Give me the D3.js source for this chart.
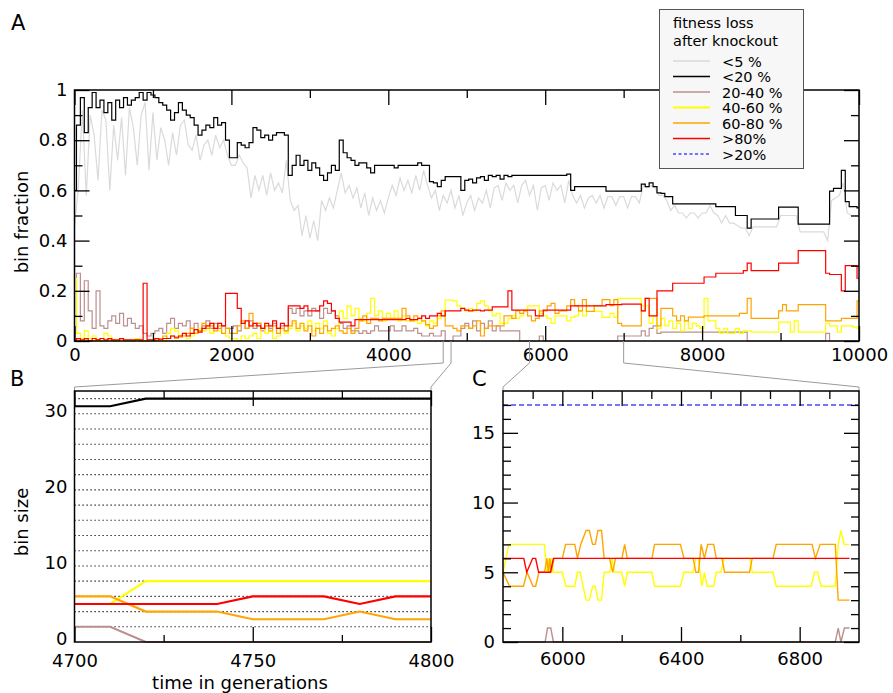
<!DOCTYPE html>
<html>
<head>
<meta charset="utf-8">
<script src="https://cdn.jsdelivr.net/npm/d3@7"></script>
<style>
  html, body { margin: 0; padding: 0; background: #fff; }
  svg { display: block; font-family: "DejaVu Sans", sans-serif; }
</style>
</head>
<body>
<svg id="fig" width="893" height="693"></svg>
<script>
// ---------- Panel A: bin fractions over the whole run (sampled every 50 generations) ----------
const genStep = 50;
const below5 = [
0.45,0.62,0.92,0.58,0.90,0.82,0.64,0.92,0.88,0.60,0.86,0.72,0.89,0.66,0.93,0.85,0.70,0.90,0.95,0.68,
0.91,0.72,0.85,0.80,0.70,0.83,0.74,0.86,0.88,0.78,0.76,0.82,0.72,0.78,0.80,0.74,0.82,0.77,0.80,0.74,
0.70,0.70,0.74,0.71,0.69,0.57,0.66,0.60,0.66,0.58,0.67,0.60,0.63,0.59,0.72,0.56,0.52,0.54,0.42,0.50,
0.41,0.48,0.40,0.56,0.52,0.57,0.53,0.60,0.67,0.59,0.62,0.57,0.61,0.53,0.59,0.50,0.57,0.52,0.56,0.51,
0.57,0.62,0.58,0.65,0.60,0.64,0.59,0.66,0.60,0.68,0.62,0.57,0.60,0.52,0.58,0.55,0.60,0.53,0.58,0.50,
0.55,0.58,0.52,0.57,0.55,0.60,0.53,0.61,0.62,0.56,0.63,0.60,0.62,0.55,0.62,0.64,0.58,0.62,0.52,0.61,
0.62,0.56,0.63,0.60,0.62,0.55,0.64,0.58,0.55,0.58,0.53,0.57,0.58,0.55,0.58,0.53,0.575,0.575,0.54,0.575,
0.575,0.53,0.575,0.575,0.55,0.62,0.61,0.62,0.61,0.58,0.58,0.56,0.52,0.54,0.51,0.51,0.49,0.51,0.51,0.49,
0.51,0.51,0.54,0.51,0.50,0.47,0.50,0.47,0.47,0.46,0.45,0.45,0.42,0.455,0.455,0.455,0.455,0.455,0.455,0.455,
0.50,0.50,0.50,0.50,0.50,0.435,0.435,0.435,0.435,0.435,0.435,0.435,0.40,0.56,0.57,0.58,0.63,0.51,0.50,0.50,
0.50];
const below20 = [
0.60,0.86,0.97,0.83,0.93,0.99,0.93,0.96,0.91,0.95,0.88,0.96,0.93,0.97,0.94,0.96,0.97,0.99,0.96,0.99,
0.98,0.97,0.95,0.94,0.92,0.88,0.91,0.95,0.92,0.90,0.89,0.86,0.82,0.84,0.86,0.85,0.89,0.86,0.87,0.80,
0.73,0.73,0.79,0.78,0.77,0.79,0.85,0.84,0.81,0.82,0.80,0.82,0.83,0.83,0.82,0.66,0.70,0.74,0.70,0.72,
0.68,0.71,0.69,0.66,0.64,0.67,0.70,0.68,0.80,0.75,0.73,0.72,0.70,0.71,0.71,0.69,0.67,0.70,0.70,0.70,
0.70,0.70,0.69,0.70,0.70,0.70,0.70,0.70,0.71,0.70,0.70,0.635,0.63,0.615,0.64,0.655,0.655,0.655,0.655,0.60,
0.64,0.645,0.63,0.65,0.655,0.64,0.66,0.655,0.66,0.645,0.66,0.655,0.66,0.66,0.66,0.66,0.66,0.66,0.66,0.66,
0.66,0.66,0.66,0.66,0.66,0.66,0.665,0.60,0.615,0.615,0.615,0.615,0.615,0.615,0.615,0.615,0.597,0.597,0.597,0.597,
0.597,0.597,0.597,0.597,0.597,0.625,0.615,0.63,0.615,0.59,0.588,0.575,0.575,0.546,0.546,0.546,0.546,0.546,0.546,0.546,
0.546,0.546,0.546,0.546,0.535,0.535,0.535,0.535,0.535,0.50,0.50,0.50,0.45,0.486,0.486,0.486,0.486,0.486,0.486,0.486,
0.533,0.533,0.533,0.533,0.533,0.466,0.466,0.466,0.466,0.466,0.466,0.466,0.466,0.597,0.608,0.608,0.68,0.555,0.535,0.535,
0.53];
const loss20to40 = [
0.10,0.27,0.08,0.24,0.12,0.05,0.20,0.06,0.05,0.08,0.10,0.07,0.11,0.06,0.09,0.07,0.05,0.06,0.03,0.02,
0.03,0.04,0.05,0.03,0.07,0.09,0.05,0.07,0.06,0.08,0.05,0.07,0.04,0.06,0.08,0.05,0.07,0.05,0.06,0.05,
0.05,0.06,0.04,0.07,0.05,0.08,0.05,0.07,0.04,0.06,0.05,0.07,0.05,0.06,0.04,0.13,0.11,0.13,0.10,0.12,
0.10,0.13,0.12,0.09,0.13,0.11,0.12,0.10,0.07,0.05,0.06,0.04,0.04,0.03,0.04,0.03,0.04,0.06,0.04,0.04,
0.04,0.06,0.04,0.04,0.06,0.04,0.04,0.05,0.03,0.02,0.02,0.03,0.02,0.02,0.04,0.0,0.0,0.02,0.02,0.05,
0.07,0.05,0.08,0.04,0.07,0.05,0.08,0.04,0.06,0.04,0.04,0.04,0.04,0.04,0.0,0.0,0.0,0.0,0.0,0.02,
0,0,0,0,0,0,0,0,0,0,0,0,0,0,0,0,0,0,0,0.02,
0.02,0.02,0.02,0.02,0.02,0.04,0.02,0.05,0.06,0.03,0.035,0.035,0.035,0.035,0.035,0.035,0.035,0.035,0.035,0.035,
0.035,0.035,0.035,0.035,0.035,0.035,0.035,0.035,0.035,0.035,0.035,0.035,0,0,0,0,0,0,0,0,
0,0,0,0,0,0,0,0,0,0,0,0,0.03,0,0,0,0,0,0,0,
0];
const loss40to60 = [
0.25,0.03,0.01,0.04,0.01,0.02,0.0,0.01,0.03,0.02,0.005,0.0,0.01,0.0,0.005,0.0,0.01,0.0,0.0,0.005,
0.005,0.0,0.01,0.0,0.03,0.05,0.04,0.02,0.03,0.01,0.02,0.03,0.05,0.04,0.06,0.03,0.05,0.04,0.03,0.02,
0.01,0.01,0.0,0.02,0.01,0.02,0.03,0.01,0.05,0.03,0.04,0.01,0.02,0.05,0.03,0.05,0.07,0.04,0.06,0.05,
0.08,0.04,0.07,0.05,0.08,0.03,0.02,0.05,0.12,0.09,0.14,0.10,0.13,0.09,0.08,0.11,0.17,0.10,0.12,0.08,
0.11,0.09,0.12,0.08,0.10,0.08,0.08,0.08,0.07,0.08,0.06,0.08,0.07,0.09,0.10,0.163,0.163,0.16,0.14,0.13,
0.12,0.13,0.12,0.15,0.16,0.14,0.12,0.10,0.11,0.07,0.07,0.09,0.10,0.09,0.10,0.12,0.14,0.14,0.14,0.11,
0.10,0.09,0.07,0.10,0.10,0.10,0.08,0.094,0.10,0.118,0.10,0.141,0.141,0.118,0.118,0.094,0.094,0.11,0.094,0.17,
0.17,0.17,0.17,0.17,0.17,0.14,0.14,0.07,0.10,0.05,0.09,0.06,0.08,0.05,0.07,0.04,0.08,0.05,0.07,0.06,
0.05,0.17,0.08,0.08,0.05,0.03,0.05,0.03,0.03,0.05,0.03,0.04,0.04,0.035,0.035,0.035,0.035,0.035,0.035,0.035,
0.075,0.075,0.075,0.035,0.08,0.035,0.035,0.035,0.035,0.035,0.035,0.035,0.07,0.06,0.06,0.035,0.06,0.06,0.06,0.055,
0.05];
const loss60to80 = [
0.0,0.005,0.0,0.005,0.0,0.0,0.005,0.0,0.0,0.005,0.0,0.0,0.005,0.0,0.0,0.0,0.005,0.0,0.0,0.0,
0.0,0.005,0.01,0.02,0.01,0.02,0.01,0.015,0.02,0.03,0.05,0.03,0.04,0.07,0.05,0.06,0.04,0.06,0.03,0.05,
0.03,0.03,0.06,0.08,0.05,0.11,0.06,0.07,0.05,0.06,0.04,0.06,0.03,0.05,0.04,0.06,0.08,0.05,0.07,0.04,
0.06,0.02,0.05,0.03,0.06,0.04,0.05,0.06,0.04,0.03,0.05,0.03,0.05,0.08,0.10,0.07,0.09,0.09,0.08,0.09,
0.09,0.09,0.09,0.09,0.13,0.10,0.08,0.10,0.09,0.08,0.065,0.05,0.06,0.10,0.12,0.06,0.06,0.05,0.04,0.06,
0.06,0.05,0.06,0.08,0.02,0.05,0.06,0.06,0.06,0.06,0.10,0.10,0.09,0.12,0.11,0.12,0.10,0.08,0.09,0.12,
0.12,0.14,0.15,0.11,0.12,0.12,0.14,0.165,0.141,0.12,0.165,0.118,0.118,0.141,0.141,0.165,0.165,0.141,0.165,0.07,
0.06,0.06,0.06,0.06,0.06,0.12,0.17,0.17,0.17,0.06,0.13,0.13,0.13,0.10,0.08,0.10,0.08,0.095,0.095,0.095,
0.095,0.10,0.10,0.10,0.10,0.10,0.10,0.10,0.10,0.10,0.11,0.11,0.17,0.09,0.09,0.09,0.09,0.09,0.09,0.09,
0.12,0.145,0.12,0.12,0.12,0.145,0.145,0.145,0.145,0.145,0.145,0.145,0.08,0.08,0.08,0.08,0.09,0.09,0.09,0.09,
0.16];
const above80 = [
0.0,0.01,0.005,0.01,0.0,0.01,0.005,0.01,0.005,0.01,0.005,0.005,0.01,0.005,0.005,0.005,0.005,0.005,0.23,0.005,
0.005,0.01,0.005,0.01,0.01,0.02,0.015,0.02,0.03,0.02,0.03,0.045,0.035,0.05,0.06,0.07,0.05,0.07,0.06,0.19,
0.19,0.19,0.13,0.07,0.08,0.06,0.07,0.06,0.05,0.07,0.06,0.08,0.05,0.07,0.06,0.14,0.14,0.14,0.13,0.14,
0.12,0.12,0.12,0.14,0.16,0.15,0.12,0.09,0.075,0.075,0.075,0.06,0.085,0.085,0.085,0.085,0.085,0.085,0.085,0.085,
0.085,0.085,0.085,0.085,0.085,0.09,0.085,0.085,0.09,0.10,0.09,0.10,0.10,0.11,0.10,0.12,0.12,0.12,0.12,0.13,
0.123,0.12,0.123,0.123,0.12,0.123,0.123,0.136,0.136,0.136,0.136,0.20,0.123,0.123,0.123,0.123,0.123,0.123,0.10,0.10,
0.123,0.123,0.123,0.123,0.123,0.123,0.123,0.14,0.14,0.14,0.14,0.14,0.14,0.14,0.14,0.14,0.145,0.145,0.145,0.145,
0.147,0.147,0.147,0.147,0.147,0.12,0.17,0.10,0.10,0.20,0.20,0.20,0.20,0.23,0.23,0.23,0.23,0.23,0.23,0.23,
0.23,0.255,0.255,0.255,0.27,0.27,0.27,0.27,0.27,0.27,0.27,0.28,0.31,0.28,0.28,0.28,0.28,0.28,0.28,0.28,
0.31,0.31,0.31,0.31,0.31,0.36,0.36,0.36,0.36,0.36,0.36,0.36,0.27,0.265,0.265,0.265,0.20,0.30,0.30,0.30,
0.25];
const gensA = below20.map((_, i) => i * genStep);

// ---------- Panel B: bin sizes, generations 4700-4800 ----------
const gensB = [4700,4710,4720,4730,4740,4750,4760,4770,4780,4790,4800];
const sizeB20   = [31,31,32,32,32,32,32,32,32,32,32];
const sizeB2040 = [2,2,0,0,0,0,0,0,0,0,0];
const sizeB4060 = [5,5,8,8,8,8,8,8,8,8,8];
const sizeB6080 = [6,6,4,4,4,3,3,3,4,3,3];
const sizeB80   = [5,5,5,5,5,6,6,6,5,6,6];
const gridB = [2,4,6,8,10,12,14,16,18,20,22,24,26,28,30,32];

// ---------- Panel C: bin sizes, generations 5800-7000 ([generation, size]) ----------
const sizeCabove20 = [[5800,17],[7000,17]];
const sizeC2040 = [[5800,0],[5942,0],[5950,1],[5961,1],[5970,0],[6920,0],[6930,1],[6939,0],[6951,1],[6968,1]];
const sizeC4060 = [[5800,5],[5820,7],[5940,7],[5948,5],[5953,6],[5958,5],[5963,6],[5970,5],[6000,5],[6012,4],
  [6042,4],[6051,5],[6060,5],[6080,3],[6091,3],[6102,4],[6111,4],[6120,3],[6132,3],[6141,5],[6160,5],[6168,6],
  [6175,5],[6200,5],[6210,4],[6219,5],[6302,5],[6311,4],[6398,4],[6410,5],[6441,5],[6450,6],[6459,6],[6470,4],
  [6479,5],[6488,4],[6510,4],[6519,5],[6535,5],[6545,6],[6632,6],[6640,5],[6710,5],[6721,4],[6839,4],[6850,5],
  [6861,5],[6872,4],[6920,4],[6930,7],[6939,8],[6950,7],[6968,7]];
const sizeC6080 = [[5800,5],[5822,4],[5869,4],[5881,5],[5901,4],[5910,4],[5921,5],[5940,5],[5948,6],[5953,5],
  [5958,6],[5963,5],[5972,6],[6000,6],[6011,7],[6042,7],[6051,6],[6062,7],[6080,8],[6091,8],[6102,7],[6111,7],
  [6120,8],[6132,8],[6141,6],[6159,6],[6170,5],[6179,6],[6201,6],[6210,7],[6219,6],[6302,6],[6311,7],[6398,7],
  [6410,6],[6441,6],[6450,5],[6459,5],[6468,7],[6479,6],[6490,7],[6510,7],[6519,6],[6538,6],[6547,5],[6631,5],
  [6640,6],[6710,6],[6721,7],[6842,7],[6853,6],[6869,7],[6920,7],[6930,3],[6968,3]];
const sizeC80 = [[5800,6],[5870,6],[5880,5],[5900,6],[5910,6],[5920,5],[5960,5],[5970,6],[6968,6]];

// ---------- Tick values and legend ----------
const xTicksA = [0,2000,4000,6000,8000,10000];
const xMinorA = [1000,3000,5000,7000,9000];
const yTicksA = [0,0.2,0.4,0.6,0.8,1];
const yMinorA = [0.1,0.3,0.5,0.7,0.9];
const xTicksB = [4700,4750,4800];
const xMinorB = [4725,4775];
const yTicksB = [0,10,20,30];
const xTicksC = [6000,6400,6800];
const xMidC   = [6200,6600];
const xTopC   = [6000,6200,6400,6600,6800];
const xTopMinorC = [5900,6100,6300,6500,6700,6900];
const yTicksC = [0,5,10,15];
const yMinorC = [1,2,3,4,6,7,8,9,11,12,13,14,16,17];

const legendTitle = ["fitness loss", "after knockout"];
const legendItems = [
  {label: "<5 %",    color: "#dadada", dash: null},
  {label: "<20 %",   color: "#000000", dash: null},
  {label: "20-40 %", color: "#bc8f8f", dash: null},
  {label: "40-60 %", color: "#ffff00", dash: null},
  {label: "60-80 %", color: "#ffa500", dash: null},
  {label: ">80%",    color: "#ff0000", dash: null},
  {label: ">20%",    color: "#4747ff", dash: "3,2.5"}
];
const col = {};
legendItems.forEach(d => col[d.label] = d.color);

const svg = d3.select("#fig");
const FS = 18;

function styleAxis(g, withText) {
  g.select(".domain").remove();
  g.selectAll(".tick line").attr("stroke", "#000").attr("stroke-width", 1.3);
  g.selectAll("text").attr("font-size", FS).attr("font-family", "DejaVu Sans, sans-serif").attr("fill", "#000");
  if (!withText) g.selectAll("text").remove();
}
function frame(x0, x1, y0, y1) {
  svg.append("rect").attr("x", x0).attr("y", y1).attr("width", x1 - x0).attr("height", y0 - y1)
    .attr("fill", "none").attr("stroke", "#000").attr("stroke-width", 1.5);
}

// ================= Panel A =================
const xA = d3.scaleLinear().domain([0, 10000]).range([74.5, 859]);
const yA = d3.scaleLinear().domain([0, 1]).range([341, 90]);
const gA = svg.append("g");
const lineAStep = d3.line().x((d, i) => xA(gensA[i])).y(d => yA(d)).curve(d3.curveStep);
const lineALin  = d3.line().x((d, i) => xA(gensA[i])).y(d => yA(d));
const seriesA = [
  [below5, "<5 %", lineALin], [below20, "<20 %", lineAStep], [loss20to40, "20-40 %", lineAStep],
  [loss40to60, "40-60 %", lineAStep], [loss60to80, "60-80 %", lineAStep], [above80, ">80%", lineAStep]
];
seriesA.forEach(([vals, key, gen]) => {
  gA.append("path").attr("d", gen(vals)).attr("fill", "none")
    .attr("stroke", col[key]).attr("stroke-width", 1.2).attr("stroke-linejoin", "miter");
});

svg.append("g").attr("transform", "translate(0,341)")
  .call(d3.axisBottom(xA).tickValues(xTicksA).tickSize(-15).tickPadding(7).tickFormat(d3.format("d")))
  .call(g => styleAxis(g, true));
svg.append("g").attr("transform", "translate(0,341)")
  .call(d3.axisBottom(xA).tickValues(xMinorA).tickSize(-8).tickFormat(""))
  .call(g => styleAxis(g, false));
svg.append("g").attr("transform", "translate(0,90)")
  .call(d3.axisTop(xA).tickValues(xTicksA).tickSize(-15).tickFormat(""))
  .call(g => styleAxis(g, false));
svg.append("g").attr("transform", "translate(0,90)")
  .call(d3.axisTop(xA).tickValues(xMinorA).tickSize(-8).tickFormat(""))
  .call(g => styleAxis(g, false));
svg.append("g").attr("transform", "translate(74.5,0)")
  .call(d3.axisLeft(yA).tickValues(yTicksA).tickSize(-15).tickPadding(7).tickFormat(d => String(+d.toFixed(1))))
  .call(g => styleAxis(g, true));
svg.append("g").attr("transform", "translate(74.5,0)")
  .call(d3.axisLeft(yA).tickValues(yMinorA).tickSize(-8).tickFormat(""))
  .call(g => styleAxis(g, false));
svg.append("g").attr("transform", "translate(859,0)")
  .call(d3.axisRight(yA).tickValues(yTicksA).tickSize(-15).tickFormat(""))
  .call(g => styleAxis(g, false));
svg.append("g").attr("transform", "translate(859,0)")
  .call(d3.axisRight(yA).tickValues(yMinorA).tickSize(-8).tickFormat(""))
  .call(g => styleAxis(g, false));
frame(74.5, 859, 341, 90);

svg.append("text").attr("transform", "translate(28,222) rotate(-90)")
  .attr("text-anchor", "middle").attr("font-size", FS).text("bin fraction");
svg.append("text").attr("x", 11).attr("y", 30).attr("font-size", 21).text("A");

// ================= Connectors (zoom windows) =================
const xB = d3.scaleLinear().domain([4700, 4800]).range([74.5, 431]);
const yB = d3.scaleLinear().domain([0, 33]).range([642, 391]);
const xC = d3.scaleLinear().domain([5800, 7000]).range([503, 859]);
const yC = d3.scaleLinear().domain([0, 18]).range([642, 391]);
const zooms = [
  [xB.domain()[0], xB.range()[0]], [xB.domain()[1], xB.range()[1]],
  [xC.domain()[0], xC.range()[0]], [xC.domain()[1], xC.range()[1]]
];
zooms.forEach(([g, px]) => {
  svg.append("path")
    .attr("d", `M${xA(g)},341V363L${px},387V391`)
    .attr("fill", "none").attr("stroke", "#9a9a9a").attr("stroke-width", 1);
});

// ================= Panel B =================
gridB.forEach(v => {
  svg.append("line").attr("x1", 74.5).attr("x2", 431).attr("y1", yB(v)).attr("y2", yB(v))
    .attr("stroke", "#000").attr("stroke-width", 1.1).attr("stroke-dasharray", "1.2,2.8");
});
const lineB = d3.line().x((d, i) => xB(gensB[i])).y(d => yB(d));
[[sizeB2040, "20-40 %"], [sizeB20, "<20 %"], [sizeB4060, "40-60 %"],
 [sizeB6080, "60-80 %"], [sizeB80, ">80%"]].forEach(([vals, key]) => {
  svg.append("path").attr("d", lineB(vals)).attr("fill", "none")
    .attr("stroke", col[key]).attr("stroke-width", 2.1);
});
svg.append("g").attr("transform", "translate(0,642)")
  .call(d3.axisBottom(xB).tickValues(xTicksB).tickSize(-15).tickPadding(12).tickFormat(d3.format("d")))
  .call(g => styleAxis(g, true));
svg.append("g").attr("transform", "translate(0,642)")
  .call(d3.axisBottom(xB).tickValues(xMinorB).tickSize(-7).tickFormat(""))
  .call(g => styleAxis(g, false));
svg.append("g").attr("transform", "translate(0,391)")
  .call(d3.axisTop(xB).tickValues(xTicksB).tickSize(-15).tickFormat(""))
  .call(g => styleAxis(g, false));
svg.append("g").attr("transform", "translate(0,391)")
  .call(d3.axisTop(xB).tickValues(xMinorB).tickSize(-7).tickFormat(""))
  .call(g => styleAxis(g, false));
svg.append("g").attr("transform", "translate(74.5,-3)")
  .call(d3.axisLeft(yB).tickValues(yTicksB).tickSize(0).tickPadding(7).tickFormat(d3.format("d")))
  .call(g => styleAxis(g, true));
frame(74.5, 431, 642, 391);
svg.append("text").attr("transform", "translate(28,522) rotate(-90)")
  .attr("text-anchor", "middle").attr("font-size", FS).text("bin size");
svg.append("text").attr("x", 240).attr("y", 689).attr("text-anchor", "middle")
  .attr("font-size", FS).text("time in generations");
svg.append("text").attr("x", 10).attr("y", 386).attr("font-size", 21).text("B");

// ================= Panel C =================
const lineC = d3.line().x(d => xC(d[0])).y(d => yC(d[1]));
svg.append("path").attr("d", lineC(sizeCabove20)).attr("fill", "none")
  .attr("stroke", col[">20%"]).attr("stroke-width", 1.5).attr("stroke-dasharray", "5,3");
[[sizeC2040, "20-40 %"], [sizeC4060, "40-60 %"], [sizeC6080, "60-80 %"], [sizeC80, ">80%"]]
  .forEach(([vals, key]) => {
    svg.append("path").attr("d", lineC(vals)).attr("fill", "none")
      .attr("stroke", col[key]).attr("stroke-width", 1.4);
  });
svg.append("g").attr("transform", "translate(0,642)")
  .call(d3.axisBottom(xC).tickValues(xTicksC).tickSize(-15).tickPadding(10).tickFormat(d3.format("d")))
  .call(g => styleAxis(g, true));
svg.append("g").attr("transform", "translate(0,642)")
  .call(d3.axisBottom(xC).tickValues(xMidC).tickSize(-7).tickFormat(""))
  .call(g => styleAxis(g, false));
svg.append("g").attr("transform", "translate(0,391)")
  .call(d3.axisTop(xC).tickValues(xTopC).tickSize(-15).tickFormat(""))
  .call(g => styleAxis(g, false));
svg.append("g").attr("transform", "translate(0,391)")
  .call(d3.axisTop(xC).tickValues(xTopMinorC).tickSize(-8).tickFormat(""))
  .call(g => styleAxis(g, false));
svg.append("g").attr("transform", "translate(503,0)")
  .call(d3.axisLeft(yC).tickValues(yTicksC).tickSize(-15).tickPadding(8).tickFormat(d3.format("d")))
  .call(g => styleAxis(g, true));
svg.append("g").attr("transform", "translate(503,0)")
  .call(d3.axisLeft(yC).tickValues(yMinorC).tickSize(-8).tickFormat(""))
  .call(g => styleAxis(g, false));
svg.append("g").attr("transform", "translate(859,0)")
  .call(d3.axisRight(yC).tickValues(yTicksC).tickSize(-15).tickFormat(""))
  .call(g => styleAxis(g, false));
svg.append("g").attr("transform", "translate(859,0)")
  .call(d3.axisRight(yC).tickValues(yMinorC).tickSize(-8).tickFormat(""))
  .call(g => styleAxis(g, false));
frame(503, 859, 642, 391);
svg.append("text").attr("x", 472).attr("y", 386).attr("font-size", 21).text("C");

// ================= Legend =================
const lg = svg.append("g");
lg.append("rect").attr("x", 659.5).attr("y", 9.5).attr("width", 144).attr("height", 159)
  .attr("fill", "#f7f7f7").attr("stroke", "#555").attr("stroke-width", 1);
legendTitle.forEach((t, i) => {
  lg.append("text").attr("x", 673).attr("y", 28 + i * 17.5).attr("font-size", 14.5).text(t);
});
legendItems.forEach((d, i) => {
  const y = 61 + i * 15.5;
  lg.append("line").attr("x1", 673).attr("x2", 710).attr("y1", y).attr("y2", y)
    .attr("stroke", d.color).attr("stroke-width", d.label === "40-60 %" ? 2 : 1.3)
    .attr("stroke-dasharray", d.dash);
  lg.append("text").attr("x", 722).attr("y", y + 5.5).attr("font-size", 14.5).text(d.label);
});
</script>
</body>
</html>
